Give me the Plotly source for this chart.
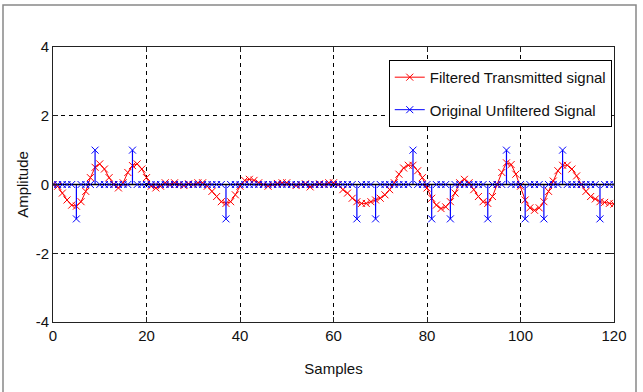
import plotly.graph_objects as go

samples = list(range(0, 121))

original_signal = [
    0, 0, 0, 0, 0, -1, 0, 0, 0, 1,
    0, 0, 0, 0, 0, 0, 0, 1, 0, 0,
    0, 0, 0, 0, 0, 0, 0, 0, 0, 0,
    0, 0, 0, 0, 0, 0, 0, -1, 0, 0,
    0, 0, 0, 0, 0, 0, 0, 0, 0, 0,
    0, 0, 0, 0, 0, 0, 0, 0, 0, 0,
    0, 0, 0, 0, 0, -1, 0, 0, 0, -1,
    0, 0, 0, 0, 0, 0, 0, 1, 0, 0,
    0, -1, 0, 0, 0, -1, 0, 0, 0, 0,
    0, 0, 0, -1, 0, 0, 0, 1, 0, 0,
    0, -1, 0, 0, 0, -1, 0, 0, 0, 1,
    0, 0, 0, 0, 0, 0, 0, -1, 0, 0,
    0,
]

filtered_signal = [
    0.00, -0.05, -0.25, -0.45, -0.60, -0.63, -0.50, -0.20, 0.20, 0.50,
    0.60, 0.45, 0.20, 0.00, -0.10, 0.05, 0.35, 0.55, 0.60, 0.45,
    0.20, -0.05, -0.10, -0.05, 0.05, 0.00, 0.05, 0.00, -0.03, 0.02,
    0.00, 0.05, 0.05, -0.05, -0.20, -0.35, -0.50, -0.55, -0.50, -0.30,
    -0.05, 0.12, 0.15, 0.12, 0.05, 0.00, -0.05, 0.00, 0.03, 0.05,
    0.05, 0.00, -0.03, 0.00, 0.02, -0.07, 0.00, 0.02, 0.00, 0.05,
    0.05, 0.00, -0.15, -0.25, -0.40, -0.50, -0.55, -0.55, -0.50, -0.45,
    -0.40, -0.30, -0.15, 0.05, 0.30, 0.48, 0.56, 0.56, 0.40, 0.20,
    -0.10, -0.40, -0.60, -0.70, -0.65, -0.50, -0.25, 0.05, 0.15, 0.05,
    -0.15, -0.35, -0.50, -0.55, -0.35, 0.00, 0.35, 0.63, 0.58, 0.30,
    -0.05, -0.45, -0.68, -0.75, -0.68, -0.50, -0.20, 0.10, 0.40, 0.56,
    0.56, 0.45, 0.25, 0.00, -0.20, -0.35, -0.42, -0.50, -0.52, -0.55,
    -0.57,
]

series_names = ["Filtered Transmitted signal", "Original Unfiltered Signal"]
x_ticks = [0, 20, 40, 60, 80, 100, 120]
x_tick_labels = ["0", "20", "40", "60", "80", "100", "120"]
y_ticks = [-4, -2, 0, 2, 4]
y_tick_labels = ["-4", "-2", "0", "2", "4"]

RED = "rgb(255,0,0)"
BLUE = "rgb(0,0,255)"
FONT = "Liberation Sans, Arial, sans-serif"

fig = go.Figure()

# filtered signal (red line with x markers)
fig.add_trace(go.Scatter(
    x=samples, y=filtered_signal, mode="lines+markers",
    name=series_names[0], legendgroup="a", legendrank=1,
    line=dict(color=RED, width=1),
    marker=dict(symbol="x-thin", size=7, line=dict(color=RED, width=1)),
))

# stems of original signal
sx, sy = [], []
for n, v in zip(samples, original_signal):
    if v != 0:
        sx += [n, n, None]
        sy += [0, v, None]
fig.add_trace(go.Scatter(x=sx, y=sy, mode="lines", showlegend=False,
                         line=dict(color=BLUE, width=1.2), hoverinfo="skip"))

# baseline
fig.add_trace(go.Scatter(x=[min(samples), max(samples)], y=[0, 0], mode="lines",
                         showlegend=False, line=dict(color="black", width=1.6),
                         hoverinfo="skip"))

# stem markers
fig.add_trace(go.Scatter(
    x=samples, y=original_signal, mode="markers", showlegend=False,
    marker=dict(symbol="x-thin", size=7, line=dict(color=BLUE, width=1)),
))

# legend entry for original
fig.add_trace(go.Scatter(
    x=[None], y=[None], mode="lines+markers", name=series_names[1],
    legendgroup="b", legendrank=2,
    line=dict(color=BLUE, width=1),
    marker=dict(symbol="x-thin", size=7, line=dict(color=BLUE, width=1)),
))

axis_common = dict(
    showline=True, linecolor="#222", linewidth=1, mirror="ticks",
    ticks="inside", ticklen=5, tickcolor="#222",
    showgrid=True, gridcolor="black", gridwidth=1, griddash="4px,4px",
    zeroline=False,
    tickfont=dict(family=FONT, size=15, color="#111"),
)

fig.update_xaxes(range=[0, 120], tickvals=x_ticks, ticktext=x_tick_labels, **axis_common,
                 title=dict(text="Samples", font=dict(family=FONT, size=15, color="#111"),
                            standoff=20))
fig.update_yaxes(range=[-4, 4], tickvals=y_ticks, ticktext=y_tick_labels, **axis_common,
                 title=dict(text="Amplitude", font=dict(family=FONT, size=15, color="#111"),
                            standoff=3))

fig.update_layout(
    width=643, height=392,
    margin=dict(l=53, r=29, t=47, b=70),
    paper_bgcolor="white", plot_bgcolor="white",
    showlegend=True,
    legend=dict(
        x=0.996, y=0.953, xanchor="right", yanchor="top",
        bgcolor="white", bordercolor="black", borderwidth=1,
        font=dict(family=FONT, size=15, color="#111"),
        traceorder="grouped", tracegroupgap=10,
    ),
    shapes=[dict(type="rect", xref="paper", yref="paper",
                 x0=(3 - 53) / 561, x1=(636 - 53) / 561,
                 y0=(322 - 400) / 275, y1=(322 - 5) / 275,
                 line=dict(color="#888", width=1.5), layer="below")],
)

fig.write_html("out.html")
